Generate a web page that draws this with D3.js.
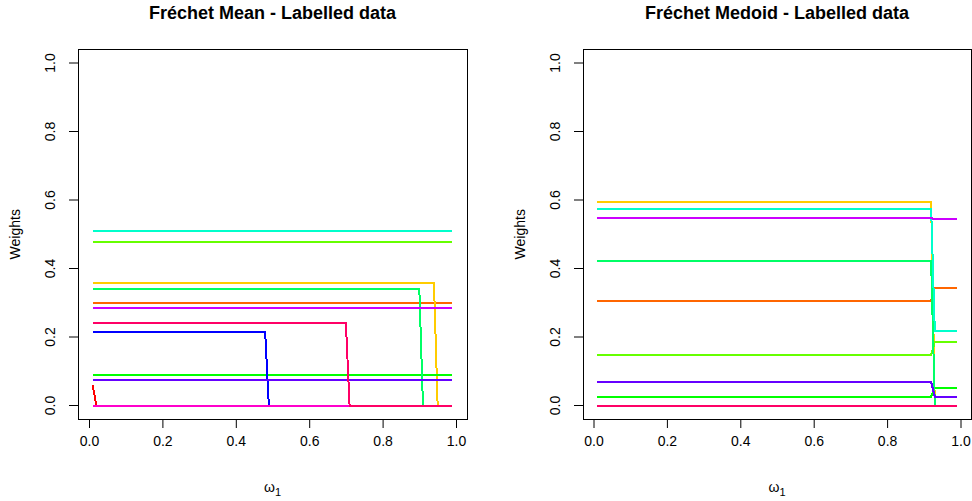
<!DOCTYPE html>
<html>
<head>
<meta charset="utf-8">
<script src="https://cdn.jsdelivr.net/npm/d3@7"></script>
<style>
  body { margin: 0; background: #fff; }
  svg text { font-family: "Liberation Sans", Arial, sans-serif; fill: #000; }
</style>
</head>
<body>
<div id="chart"></div>
<script>
// ---- data ----
var titles = ["Fréchet Mean - Labelled data", "Fréchet Medoid - Labelled data"];
var xTicks = [0, 0.2, 0.4, 0.6, 0.8, 1.0];
var yTicks = [0, 0.2, 0.4, 0.6, 0.8, 1.0];
var xRange = [0.01, 0.99];

// rainbow palette used by the series (draw order)
var seriesColors = ["#FF0000", "#FF6600", "#FFCC00", "#66FF00", "#00FF00", "#00FF66",
                    "#00FFCC", "#0000FF", "#6600FF", "#CC00FF", "#FF00CC", "#FF0066"];

// Fréchet mean: breakpoints (x) and weights (y) of every series
var meanX = [
  [0.01, 0.02, 0.99],
  [0.01, 0.99],
  [0.01, 0.94, 0.95, 0.99],
  [0.01, 0.99],
  [0.01, 0.99],
  [0.01, 0.90, 0.91, 0.99],
  [0.01, 0.99],
  [0.01, 0.48, 0.49, 0.99],
  [0.01, 0.99],
  [0.01, 0.99],
  [0.01, 0.99],
  [0.01, 0.70, 0.71, 0.99]
];
var meanY = [
  [0.060, 0, 0],
  [0.299, 0.299],
  [0.359, 0.359, 0, 0],
  [0.478, 0.478],
  [0.089, 0.089],
  [0.341, 0.341, 0, 0],
  [0.510, 0.510],
  [0.215, 0.215, 0, 0],
  [0.073, 0.073],
  [0.285, 0.285],
  [0, 0],
  [0.240, 0.240, 0, 0]
];

// Fréchet medoid
var medoidX = [
  [0.01, 0.99],
  [0.01, 0.92, 0.93, 0.99],
  [0.01, 0.92, 0.93, 0.99],
  [0.01, 0.92, 0.93, 0.99],
  [0.01, 0.92, 0.93, 0.99],
  [0.01, 0.92, 0.93, 0.99],
  [0.01, 0.92, 0.93, 0.99],
  [0.01, 0.99],
  [0.01, 0.92, 0.93, 0.99],
  [0.01, 0.92, 0.93, 0.99],
  [0.01, 0.99],
  [0.01, 0.99]
];
var medoidY = [
  [0, 0],
  [0.306, 0.306, 0.344, 0.344],
  [0.594, 0.594, 0, 0],
  [0.148, 0.148, 0.186, 0.186],
  [0.026, 0.026, 0.052, 0.052],
  [0.423, 0.423, 0, 0],
  [0.575, 0.575, 0.218, 0.218],
  [0, 0],
  [0.069, 0.069, 0.026, 0.026],
  [0.547, 0.547, 0.544, 0.544],
  [0, 0],
  [0, 0]
];

// ---- layout ----
var svgWidth = 972, svgHeight = 501;
var svg = d3.select("#chart").append("svg")
    .attr("width", svgWidth)
    .attr("height", svgHeight);

var panels = [
  {title: titles[0], xs: meanX, ys: meanY, x0: 89, x1: 456},
  {title: titles[1], xs: medoidX, ys: medoidY, x0: 593.5, x1: 960.5}
];

panels.forEach(function(p) {
  var x = d3.scaleLinear().domain([0, 1]).range([p.x0, p.x1]);
  var y = d3.scaleLinear().domain([0, 1]).range([405.5, 63]);

  // R style 4% padding around the data range
  var padX = (xRange[1] - xRange[0]) * 0.04;
  var left = x(xRange[0] - padX), right = x(xRange[1] + padX);
  var top = y(1.04), bottom = y(-0.04);

  var g = svg.append("g");

  // series lines
  var line = d3.line()
      .x(function(d) { return x(d[0]); })
      .y(function(d) { return y(d[1]); });

  p.xs.forEach(function(xs, i) {
    var pts = xs.map(function(v, j) { return [v, p.ys[i][j]]; });
    g.append("path")
      .datum(pts)
      .attr("d", line)
      .attr("fill", "none")
      .attr("stroke", seriesColors[i])
      .attr("stroke-width", 2)
      .attr("shape-rendering", "crispEdges");
  });

  // box
  g.append("rect")
    .attr("x", Math.round(left) + 0.5)
    .attr("y", Math.round(top) + 0.5)
    .attr("width", Math.round(right) - Math.round(left))
    .attr("height", Math.round(bottom) - Math.round(top))
    .attr("fill", "none")
    .attr("stroke", "#000")
    .attr("stroke-width", 1);

  // x axis
  var xAxis = d3.axisBottom(x).tickValues(xTicks).tickSize(9).tickPadding(8)
      .tickFormat(d3.format(".1f"));
  var gx = g.append("g")
    .attr("transform", "translate(0," + Math.round(bottom) + ")")
    .call(xAxis);
  gx.select(".domain").remove();
  gx.selectAll("text").style("font-size", "14px").attr("fill", "#000");

  // y axis with rotated labels
  var yAxis = d3.axisLeft(y).tickValues(yTicks).tickSize(9).tickFormat(d3.format(".1f"));
  var gy = g.append("g")
    .attr("transform", "translate(" + Math.round(left) + ",0)")
    .call(yAxis);
  gy.select(".domain").remove();
  gy.selectAll("text")
    .style("font-size", "14px")
    .attr("fill", "#000")
    .attr("x", 0).attr("dy", null)
    .attr("text-anchor", "middle")
    .attr("transform", function(d) { return "translate(-23," + y(d) + ") rotate(-90)"; })
    .attr("y", 0);
  gy.selectAll(".tick").attr("transform", null);
  gy.selectAll(".tick line").attr("transform", function(d) { return "translate(0," + y(d) + ")"; });

  // title
  g.append("text")
    .attr("x", (left + right) / 2)
    .attr("y", 19)
    .attr("text-anchor", "middle")
    .style("font-size", "18px")
    .style("font-weight", "bold")
    .text(p.title);

  // axis titles
  var xl = g.append("text")
    .attr("x", (left + right) / 2)
    .attr("y", 492)
    .attr("text-anchor", "middle")
    .style("font-size", "14px");
  xl.append("tspan").text("ω");
  xl.append("tspan").attr("dy", 4).style("font-size", "11px").text("1");

  g.append("text")
    .attr("transform", "translate(" + (left - 58) + "," + ((top + bottom) / 2) + ") rotate(-90)")
    .attr("text-anchor", "middle")
    .style("font-size", "14px")
    .text("Weights");
});
</script>
</body>
</html>
